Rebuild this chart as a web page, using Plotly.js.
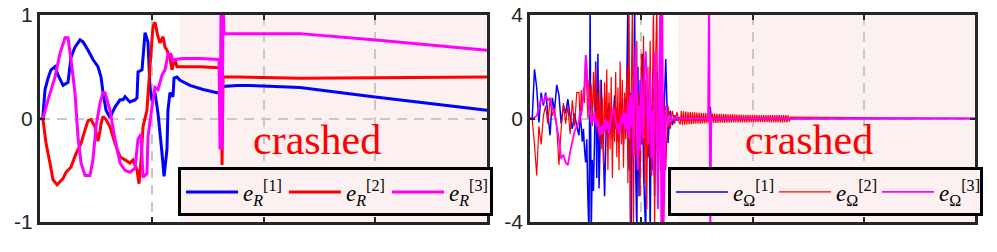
<!DOCTYPE html>
<html>
<head>
<meta charset="utf-8">
<script src="https://cdn.plot.ly/plotly-3.0.1.min.js"></script>
<style>
html,body{margin:0;padding:0;background:#fff;}
#chart{width:997px;height:252px;}
</style>
</head>
<body>
<div id="chart"></div>
<script>
// ---------- left panel: e_R ----------
const tR1 = [0,0.24,0.45,0.72,0.98,1.34,1.61,2.06,2.51,2.77,3.13,3.58,3.85,4.30,4.74,5.19,5.46,5.64,5.91,6.26,6.71,7.16,7.43,7.61,8.05,8.50,8.68,8.77,9.13,9.40,9.66,9.84,10.02,10.29,10.56,10.92,11.10,11.36,11.45,11.63,11.90,11.99,12.26,12.53,13.42,14.59,15.84,16.11,16.20,16.29,16.38,17.63,18.79,23.27,29.80,40];
const eR1 = [0,0,0.28,0.39,0.47,0.50,0.42,0.32,0.35,0.59,0.69,0.76,0.74,0.66,0.57,0.50,0.40,0.25,0.08,0.01,0.11,0.18,0.18,0.21,0.16,0.18,0.20,0.45,0.47,0.83,0.74,0.30,0.17,0.25,0.05,-0.34,-0.56,-0.30,0.08,0.25,0.21,0.39,0.40,0.37,0.32,0.28,0.25,0.25,0.22,0.28,0.31,0.32,0.32,0.30,0.21,0.08];

const tR2 = [0,0.27,0.54,0.89,1.16,1.52,2.06,2.33,2.77,3.22,3.67,4.03,4.30,4.56,4.92,5.19,5.37,5.46,5.64,5.91,6.26,6.71,7.16,7.61,8.05,8.32,8.68,8.86,9.04,9.22,9.57,9.84,10.11,10.29,10.56,10.74,11.01,11.19,11.36,11.63,11.81,12.08,12.26,12.80,14.32,16.02,16.20,16.29,16.38,17.63,23.27,40];
const eR2 = [0,-0.01,-0.24,-0.43,-0.59,-0.64,-0.58,-0.52,-0.47,-0.34,-0.24,-0.11,-0.02,-0.01,-0.08,-0.22,-0.12,-0.05,0.02,-0.01,-0.08,-0.24,-0.37,-0.40,-0.43,-0.40,-0.50,-0.63,-0.40,-0.08,0.08,0.50,0.89,0.93,0.79,0.73,0.79,0.69,0.66,0.59,0.47,0.57,0.50,0.50,0.50,0.49,0.48,-0.45,0.40,0.40,0.39,0.40];

const tR3 = [0,0.27,0.72,1.34,1.79,2.24,2.51,2.77,3.13,3.40,3.67,4.03,4.47,4.74,5.01,5.37,5.64,5.82,6.26,6.71,7.16,7.61,8.05,8.50,8.77,9.04,9.22,9.57,9.66,10.02,10.29,10.56,10.92,11.19,11.45,11.72,11.90,12.08,12.80,14.32,16.02,16.11,16.20,16.29,16.38,16.47,17.63,23.27,29.80,40];
const eR3 = [0,0,0.18,0.40,0.63,0.78,0.78,0.57,0.25,-0.18,-0.43,-0.55,-0.55,-0.40,-0.08,0.15,0.25,0.25,0.08,-0.20,-0.43,-0.50,-0.52,-0.48,-0.20,-0.15,-0.57,-0.53,-0.18,0.11,0.30,0.28,0.42,0.47,0.62,0.62,0.55,0.57,0.58,0.58,0.57,-0.30,1.1,-0.30,1.1,0.82,0.82,0.82,0.76,0.66];

// ---------- right panel: e_Omega (shared sample times) ----------
const tW = [
  // early oscillation
  0,0.2,0.4,0.6,0.8,1,1.2,1.4,1.6,1.8,2,2.2,2.4,2.6,2.8,3,3.2,3.4,3.6,3.8,4,4.2,
  // violent phase
  4.4,
  4.5,4.6,4.7,4.8,4.9,5,5.1,5.2,5.3,5.4,
  5.5,5.6,5.7,5.8,5.9,6,6.1,6.2,6.3,6.4,
  6.5,6.6,6.7,6.8,6.9,7,7.1,7.2,7.3,7.4,
  7.5,7.6,7.7,7.8,7.9,8,8.1,8.2,8.3,8.4,
  8.5,8.6,8.7,8.8,8.9,9,9.1,9.2,9.3,9.4,
  9.5,9.6,9.7,9.8,9.9,10,10.1,10.2,10.3,10.4,
  10.5,10.6,10.7,10.8,10.9,11,11.1,11.2,11.3,11.4,
  11.5,11.6,11.7,11.8,11.9,12,
  // decay
  12.2,12.4,12.6,12.8,13,13.2,13.4,
  // after crash
  13.5,13.6,13.7,13.8,13.9,14,14.1,14.2,14.3,14.4,
  14.5,14.6,14.7,14.8,14.9,15,15.1,15.2,15.3,15.4,
  15.5,15.6,15.7,15.8,15.9,16,16.1,16.2,16.3,16.4,
  16.5,16.6,16.7,16.8,16.9,17,17.1,17.2,17.3,17.4,
  17.5,17.6,17.7,17.8,17.9,18,18.1,18.2,18.3,18.4,
  18.5,18.6,18.7,18.8,18.9,19,19.1,19.2,19.3,19.4,
  19.5,19.6,19.7,19.8,19.9,20,20.1,20.2,20.3,20.4,
  20.5,20.6,20.7,20.8,20.9,21,21.1,21.2,21.3,21.4,
  21.5,21.6,21.7,21.8,21.9,22,22.1,22.2,22.3,22.4,
  22.5,22.6,22.7,22.8,22.9,23,23.1,23.2,23.3,23.4,
  40];
const eW1 = [
  0,0.05,1.9,1.2,-0.15,1.0,0.5,1.0,0.2,-0.65,0.8,0.3,1.3,0.9,-0.2,0.5,0.2,0.75,0.1,-0.4,0.2,-0.3,
  -0.65,
  0.2,-0.3,-0.9,-0.4,-1.2,-1.7,-0.8,-3.1,-4.5,4.5,
  -4.5,-1.6,-2.8,-0.8,2.2,-2.3,2.5,-2.7,-1.0,1.5,
  -0.5,-1.3,-3.0,-1.2,0.5,-0.3,0.6,-0.5,0.3,-0.8,
  0.2,0.9,-0.4,0.4,-0.9,0.1,0.6,-0.5,0.3,-1.0,
  0.8,-0.2,1.5,4.5,-2.0,1.0,-4.5,1.2,-1.5,4.5,
  -2.0,-4.5,2.0,-3.0,1.5,-1.0,2.5,-2.0,-3.3,-4.5,
  1.0,-1.5,0.8,-4.5,0.5,-2.0,1.2,-3.0,0.5,1.8,
  -2.0,-0.6,1.5,-1.2,1.0,-0.5,
  2.3,-0.95,0.3,-0.25,0.12,-0.08,0.05,
  -0.04,-0.05,-0.04,-0.05,-0.04,-0.05,-0.04,-0.05,-0.04,-0.05,
  -0.04,-0.05,-0.04,-0.05,-0.04,-0.05,-0.04,-0.05,-0.04,-0.05,
  -0.05,-0.04,-0.05,-0.04,-0.05,-0.04,-0.03,0.45,-0.05,-0.04,
  -0.04,-0.03,-0.04,-0.03,-0.04,-0.03,-0.04,-0.03,-0.04,-0.03,
  -0.03,-0.03,-0.03,-0.03,-0.03,-0.03,-0.03,-0.03,-0.03,-0.03,
  -0.03,-0.02,-0.03,-0.02,-0.03,-0.02,-0.03,-0.02,-0.03,-0.02,
  -0.02,-0.02,-0.02,-0.02,-0.02,-0.02,-0.02,-0.02,-0.02,-0.02,
  -0.02,-0.02,-0.02,-0.02,-0.02,-0.02,-0.02,-0.02,-0.02,-0.02,
  -0.01,-0.01,-0.01,-0.01,-0.01,-0.01,-0.01,-0.01,-0.01,-0.01,
  -0.01,-0.01,-0.01,-0.01,-0.01,-0.01,-0.01,-0.01,-0.01,-0.01,
  0];
const eW2 = [
  0,-0.06,-1.0,-2.2,-0.3,-1.0,0.1,0.5,-0.2,0.75,0.1,0.4,-0.3,-1.8,-0.4,0.6,-0.2,0.5,-0.6,0.7,-0.3,1.0,
  1.0,
  -0.2,1.1,0.3,1.2,0.6,2.45,1.2,0.0,1.5,0.5,
  1.3,-0.3,1.8,0.4,2.0,-0.5,1.0,-0.8,1.5,-1.2,
  0.8,-1.8,1.4,-0.6,1.9,-2.0,1.0,-1.2,1.6,-2.3,
  0.5,-0.9,1.8,-1.5,1.2,-2.0,2.2,-1.0,1.5,-1.9,
  1.0,-0.8,2.0,-2.5,4.5,-4.5,1.0,4.5,-4.5,2.0,
  -1.5,3.0,-2.0,1.0,-3.0,2.5,-1.0,3.2,-2.5,1.5,
  -3.5,2.0,-1.5,3.0,-2.2,1.0,4.5,-4.5,2.5,4.5,
  -3.0,1.5,-2.0,4.5,-4.5,1.0,
  -2.0,0.5,-0.4,0.3,-0.2,0.25,-0.15,
  -0.22,0.3,-0.25,0.28,-0.24,0.27,-0.23,0.26,-0.22,0.25,
  -0.22,0.24,-0.21,0.24,-0.2,0.23,-0.2,0.22,-0.2,0.22,
  -0.19,0.21,-0.19,0.21,-0.18,0.2,-0.18,0.2,-0.18,0.19,
  -0.17,0.19,-0.17,0.18,-0.17,0.18,-0.16,0.18,-0.16,0.17,
  -0.16,0.17,-0.16,0.16,-0.16,0.16,-0.15,0.16,-0.15,0.16,
  -0.15,0.15,-0.15,0.15,-0.15,0.15,-0.15,0.14,-0.15,0.14,
  -0.15,0.14,-0.15,0.14,-0.14,0.14,-0.14,0.14,-0.14,0.13,
  -0.14,0.13,-0.14,0.13,-0.14,0.13,-0.14,0.13,-0.14,0.13,
  -0.14,0.13,-0.15,0.13,-0.14,0.13,-0.15,0.13,-0.14,0.13,
  -0.15,0.13,-0.15,0.13,-0.14,0.13,-0.15,0.12,-0.12,0.05,
  0];
const eW3 = [
  0,0,0.05,0.1,0.4,0.8,0.6,0.9,0.7,0.8,0.4,0.2,-0.3,-0.8,-1.55,-1.4,-1.7,-1.8,-1.3,-0.9,-0.5,-0.3,
  -0.1,
  0.3,0.1,0.6,0.8,1.3,2.45,2.0,1.2,0.5,0.2,
  -0.2,0.1,-0.1,0.3,-0.2,-0.3,0.0,-0.5,-0.65,-0.3,
  -0.6,-0.2,-0.5,0.0,-0.4,-0.1,-0.6,-0.2,0.1,0.3,
  0.4,0.2,-0.1,-0.4,-0.2,-0.6,-0.3,0.1,-0.2,0.3,
  -0.4,0.2,-0.5,0.6,-0.8,0.9,-0.3,1.2,-1.5,0.8,
  2.8,1.0,-2.0,0.5,-1.2,1.6,0.7,-0.8,2.0,2.6,
  1.4,-1.0,0.3,1.8,-1.5,0.3,-2.2,2.4,2.6,-1.0,
  -3.5,1.2,4.5,-4.5,4.5,-4.5,
  0.5,-0.3,0.15,-0.1,0.05,0,0,
  0,0,0,0,0,0,0,0,0,0,
  0,0,0,0,0,0,0,0,0,0,
  0,0,0,0,0,0,5,-5,0,0,
  0,0,0,0,0,0,0,0,0,0,
  0,0,0,0,0,0,0,0,0,0,
  0,0,0,0,0,0,0,0,0,0,
  0,0,0,0,0,0,0,0,0,0,
  0,0,0,0,0,0,0,0,0,0,
  0,0,0,0,0,0,0,0,0,0,
  0,0,0,0,0,0,0,0,0,0,
  0];

const namesR = ['<i>e</i><sub><i>R</i></sub><sup>[1]</sup>','<i>e</i><sub><i>R</i></sub><sup>[2]</sup>','<i>e</i><sub><i>R</i></sub><sup>[3]</sup>'];
const namesW = ['<i>e</i><sub>Ω</sub><sup>[1]</sup>','<i>e</i><sub>Ω</sub><sup>[2]</sup>','<i>e</i><sub>Ω</sub><sup>[3]</sup>'];
const crashStartR = 12.53, crashStartW = 13.3;
const yTicksR = [-1,0,1], yTicksW = [-4,0,4];
const xTicks = [0,10,20,30,40];

const BLUE='#0000ff', RED='#ff0000', MAG='#ff00ff';
const traces = [
  {x:tR1,y:eR1,name:namesR[0],line:{color:BLUE,width:3,simplify:false},xaxis:'x',yaxis:'y',legend:'legend'},
  {x:tR2,y:eR2,name:namesR[1],line:{color:RED,width:3,simplify:false},xaxis:'x',yaxis:'y',legend:'legend'},
  {x:tR3,y:eR3,name:namesR[2],line:{color:MAG,width:3,simplify:false},xaxis:'x',yaxis:'y',legend:'legend'},
  {x:tW,y:eW1,name:namesW[0],line:{color:BLUE,width:1.5,simplify:false},xaxis:'x2',yaxis:'y2',legend:'legend2'},
  {x:tW,y:eW2,name:namesW[1],line:{color:RED,width:1.2,simplify:false},xaxis:'x2',yaxis:'y2',legend:'legend2'},
  {x:tW,y:eW3,name:namesW[2],line:{color:MAG,width:1.8,simplify:false},xaxis:'x2',yaxis:'y2',legend:'legend2'}
].map(t=>Object.assign({type:'scatter',mode:'lines'},t));

const AX = '#262626', GRID='#c8c8c8', PINK='#fdf0f0';
function xax(domain, anchor){
  return {domain:domain, anchor:anchor, range:[0,40], tickvals:xTicks, showticklabels:false,
    ticks:'inside', ticklen:5, tickwidth:2, tickcolor:AX, showline:true, linewidth:3, linecolor:AX,
    mirror:'ticks', showgrid:true, gridcolor:GRID, gridwidth:2, griddash:'10px,7px', zeroline:false, fixedrange:true};
}
function yax(range, ticks, anchor){
  return {anchor:anchor, range:range, tickvals:ticks, ticktext:ticks.map(String),
    ticks:'inside', ticklen:5, tickwidth:2, tickcolor:AX, showline:true, linewidth:3, linecolor:AX,
    mirror:'ticks', showgrid:true, gridcolor:GRID, gridwidth:2, griddash:'10px,7px', zeroline:false,
    tickfont:{family:'Liberation Sans, Arial, sans-serif', size:21, color:AX}, fixedrange:true};
}
const legendBase = {orientation:'h', xref:'paper', yref:'paper', xanchor:'left', yanchor:'top',
  bgcolor:PINK, bordercolor:'#000', borderwidth:3, itemwidth:52, entrywidth:36, entrywidthmode:'pixels',
  font:{family:'Liberation Serif, Times New Roman, serif', size:23, color:'#000'}};

const layout = {
  width:997, height:252, margin:{l:40,r:22,t:15,b:30,autoexpand:false},
  paper_bgcolor:'#fff', plot_bgcolor:'#fff', showlegend:true,
  xaxis: xax([0,0.4781],'y'), yaxis: yax([-1,1], yTicksR,'x'),
  xaxis2: xax([0.5241,1],'y2'), yaxis2: yax([-4,4], yTicksW,'x2'),
  legend: Object.assign({x:0.1476, y:0.2633}, legendBase),
  legend2: Object.assign({x:0.6717, y:0.2633}, legendBase),
  shapes:[
    {type:'rect', xref:'x', yref:'y', x0:crashStartR, x1:40, y0:-1, y1:1, fillcolor:PINK, line:{width:0}, layer:'below'},
    {type:'rect', xref:'x2', yref:'y2', x0:crashStartW, x1:40, y0:-4, y1:4, fillcolor:PINK, line:{width:0}, layer:'below'}
  ],
  annotations:[
    {text:'crashed', xref:'x', yref:'y', x:24.83, y:-0.21, showarrow:false, xanchor:'center', yanchor:'middle',
     font:{family:'Liberation Serif, Times New Roman, serif', size:42, color:RED}},
    {text:'crashed', xref:'x2', yref:'y2', x:25.08, y:-0.83, showarrow:false, xanchor:'center', yanchor:'middle',
     font:{family:'Liberation Serif, Times New Roman, serif', size:42, color:RED}}
  ]
};
Plotly.newPlot('chart', traces, layout, {displayModeBar:false, staticPlot:true});
</script>
</body>
</html>
